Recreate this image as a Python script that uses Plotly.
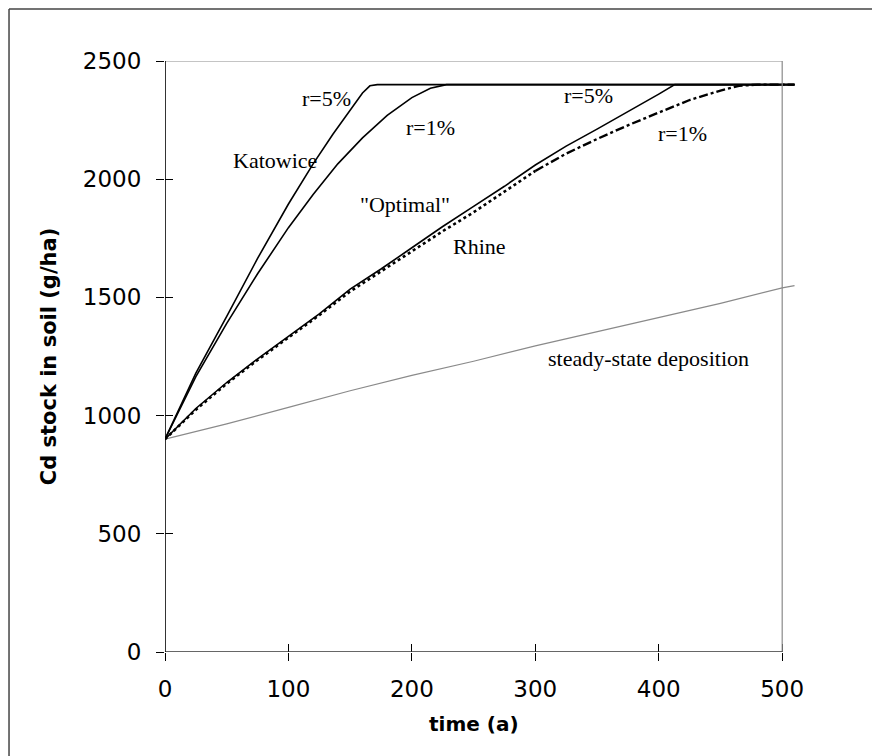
import plotly.graph_objects as go

# ---- data ----
kat5_t = [0, 10, 25, 50, 75, 100, 120, 136, 150, 160, 166, 172, 510]
kat5_v = [900, 1010, 1180, 1420, 1665, 1895, 2065, 2190, 2295, 2365, 2395, 2400, 2400]

kat1_t = [0, 10, 25, 50, 75, 100, 120, 140, 160, 180, 200, 215, 228, 510]
kat1_v = [900, 1005, 1165, 1390, 1600, 1795, 1935, 2065, 2175, 2270, 2345, 2385, 2400, 2400]

rh5_t = [0, 25, 50, 75, 100, 125, 150, 175, 200, 225, 250, 275, 300, 325, 350, 375, 400, 413, 510]
rh5_v = [900, 1030, 1140, 1240, 1335, 1430, 1535, 1620, 1710, 1800, 1885, 1970, 2060, 2140, 2212, 2285, 2360, 2400, 2400]

rh1_t = [0, 25, 50, 75, 100, 125, 150, 175, 200, 225, 250, 275, 300, 325, 350, 375, 400, 425, 450, 465, 480, 510]
rh1_v = [900, 1025, 1135, 1235, 1330, 1425, 1525, 1610, 1695, 1780, 1860, 1948, 2035, 2108, 2170, 2228, 2282, 2335, 2375, 2395, 2400, 2400]

ss_t = [0, 50, 100, 150, 200, 250, 300, 350, 400, 450, 500, 510]
ss_v = [900, 965, 1035, 1105, 1170, 1230, 1295, 1355, 1415, 1475, 1540, 1550]

x_ticks = [0, 100, 200, 300, 400, 500]
y_ticks = [0, 500, 1000, 1500, 2000, 2500]

labels = ["r=5%", "Katowice", "r=1%", '"Optimal"', "Rhine", "r=5%", "r=1%", "steady-state deposition"]
label_t = [131.0, 89.0, 215.0, 194.5, 255.0, 343.0, 419.0, 391.7]
label_v = [2343, 2081, 2217, 1891, 1717, 2352, 2195, 1243]

# ---- figure ----
fig = go.Figure()
blk = dict(color="black", width=1.6)
fig.add_trace(go.Scatter(x=ss_t, y=ss_v, mode="lines", line=dict(color="#8a8a8a", width=1.2), name="steady-state"))
fig.add_trace(go.Scatter(x=kat5_t, y=kat5_v, mode="lines", line=blk, name="Katowice r=5%"))
fig.add_trace(go.Scatter(x=kat1_t, y=kat1_v, mode="lines", line=blk, name="Katowice r=1%"))
fig.add_trace(go.Scatter(x=rh5_t, y=rh5_v, mode="lines", line=blk, name="Rhine r=5%"))
split = rh1_t.index(300)
fig.add_trace(go.Scatter(x=rh1_t[:split + 1], y=rh1_v[:split + 1], mode="lines",
                         line=dict(color="black", width=2.6, dash="dot"), name="Rhine r=1%"))
fig.add_trace(go.Scatter(x=rh1_t[split:], y=rh1_v[split:], mode="lines",
                         line=dict(color="black", width=2.4, dash="dashdot"), name="Rhine r=1% (b)"))

for txt, tx, ty in zip(labels, label_t, label_v):
    fig.add_annotation(x=tx, y=ty, text=txt, showarrow=False,
                       font=dict(family="Liberation Serif", size=22, color="black"))

# x-axis title centred on the 0-500 axis
fig.add_annotation(x=250, y=0, xref="x", yref="paper", yanchor="middle", yshift=-72,
                   text="<b>time (a)</b>", showarrow=False,
                   font=dict(family="DejaVu Sans", size=20, color="black"))

fig.update_layout(
    width=880, height=756,
    margin=dict(l=157, r=91, t=53, b=112),
    paper_bgcolor="white", plot_bgcolor="white",
    showlegend=False,
    font=dict(family="DejaVu Sans", color="black"),
    xaxis=dict(range=[0, 512], tickvals=x_ticks, ticks="outside", ticklen=8, tickcolor="black",
               tickfont=dict(size=23), showgrid=False, zeroline=False, showline=False,
               ticklabelstandoff=8),
    yaxis=dict(range=[0, 2500], tickvals=y_ticks, ticks="outside", ticklen=8, tickcolor="black",
               tickfont=dict(size=23), showgrid=False, zeroline=False, showline=False,
               ticklabelstandoff=10,
               title=dict(text="<b>Cd stock in soil (g/ha)</b>", font=dict(size=21), standoff=20)),
    xaxis2=dict(range=[0, 512], overlaying="x", tickvals=x_ticks, ticks="inside", ticklen=8,
                tickcolor="black", showticklabels=False, showgrid=False, zeroline=False,
                showline=False, side="bottom", anchor="y"),
    yaxis2=dict(range=[0, 2500], overlaying="y", tickvals=y_ticks, ticks="inside", ticklen=8,
                tickcolor="black", showticklabels=False, showgrid=False, zeroline=False,
                showline=False, side="left", anchor="x"),
)
# empty trace to activate the overlay axes that carry the inner tick halves
fig.add_trace(go.Scatter(x=[], y=[], xaxis="x2", yaxis="y2", showlegend=False))

# plot frame
fig.add_shape(type="line", xref="x", yref="y", x0=0, x1=500, y0=2500, y1=2500, line=dict(color="#8a8a8a", width=1.2))
fig.add_shape(type="line", xref="x", yref="y", x0=500, x1=500, y0=0, y1=2500, line=dict(color="#8a8a8a", width=1.2))
fig.add_shape(type="line", xref="x", yref="y", x0=0, x1=500, y0=0, y1=0, line=dict(color="#333", width=1.4))
fig.add_shape(type="line", xref="x", yref="y", x0=0, x1=0, y0=0, y1=2500, line=dict(color="black", width=1.6))

# outer border of the figure (left and top)
fig.add_shape(type="line", xref="paper", yref="paper", x0=-0.2468, x1=-0.2468, y0=-0.25, y1=1.088,
              line=dict(color="#444", width=1.5))
fig.add_shape(type="line", xref="paper", yref="paper", x0=-0.2468, x1=1.2, y0=1.088, y1=1.088,
              line=dict(color="#444", width=1.5))

fig.write_html("out.html")
